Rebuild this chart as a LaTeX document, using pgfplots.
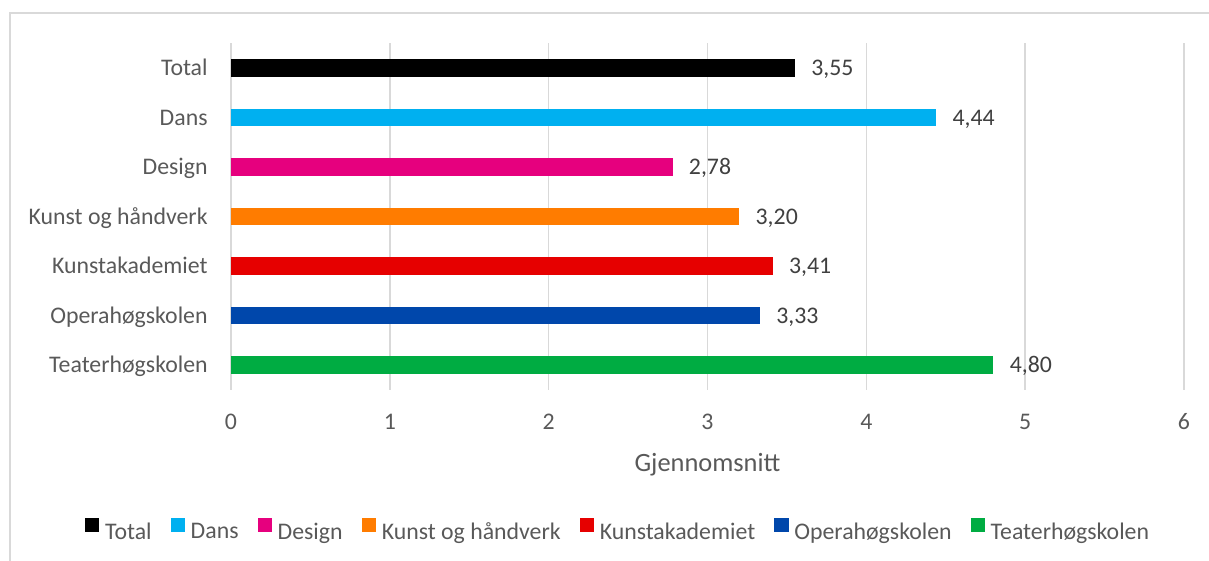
\documentclass[border=0pt]{standalone}
\usepackage{pgfplots}
\pgfplotsset{compat=1.18}
\usepackage{fontspec}
\setmainfont{Carlito}
\definecolor{gridgray}{HTML}{D9D9D9}
\definecolor{ticktext}{HTML}{595959}
\definecolor{labeltext}{HTML}{404040}
\definecolor{cTotal}{HTML}{000000}
\definecolor{cDans}{HTML}{00B0F0}
\definecolor{cDesign}{HTML}{E6007E}
\definecolor{cKunst}{HTML}{FF7C00}
\definecolor{cKa}{HTML}{E60000}
\definecolor{cOpera}{HTML}{0047AB}
\definecolor{cTeater}{HTML}{00AC42}
\begin{document}
\begin{tikzpicture}
\path[use as bounding box] (0,0) rectangle (604.5pt,280.5pt);
\draw[gridgray, line width=0.65pt] (5pt,0pt) -- (5pt,274pt) -- (604.5pt,274pt);
\begin{axis}[
  at={(115.5pt,85.5pt)}, anchor=south west,
  scale only axis, width=476.5pt, height=173.5pt,
  xmin=0, xmax=6, ymin=-0.5, ymax=6.5,
  xtick={0,1,2,3,4,5,6},
  ytick={0,1,2,3,4,5,6},
  yticklabels={Teaterhøgskolen,Operahøgskolen,Kunstakademiet,Kunst og håndverk,Design,Dans,Total},
  axis line style={draw=none},
  major tick length=0pt,
  xmajorgrids, grid style={gridgray, line width=0.7pt},
  /pgf/number format/assume math mode=true,
  tick label style={font=\fontsize{11.9}{14}\selectfont, text=ticktext, inner sep=0pt},
  yticklabel style={anchor=base east, xshift=-11.5pt, yshift=-3.85pt},
  xticklabel style={anchor=base, yshift=-19.65pt},
  xlabel={Gjennomsnitt},
  xlabel style={at={(axis description cs:0.5,0)}, anchor=base, inner sep=0pt, yshift=-41pt, font=\fontsize{13.2}{16}\selectfont, text=ticktext},
  point meta=explicit symbolic,
  nodes near coords,
  nodes near coords style={anchor=base west, inner sep=0pt, xshift=8pt, yshift=-3.85pt, font=\fontsize{11.9}{14}\selectfont, text=labeltext},
  legend columns=-1,
  legend image code/.code={\fill[#1] (0pt,0pt) rectangle (7.2pt,7.2pt);},
  legend style={at={(0.407,-0.409)}, anchor=center, draw=none, fill=none,
    font=\fontsize{11.9}{14}\selectfont, text=ticktext,
    /tikz/every odd column/.append style={column sep=1pt},
    /tikz/every even column/.append style={column sep=7.75pt},
    nodes={inner sep=1.8pt}},
]
\addplot[xbar, bar shift=0pt, bar width=8.75pt, fill=cTotal, draw=none] coordinates {(3.55,6) [3,55]};
\addplot[xbar, bar shift=0pt, bar width=8.75pt, fill=cDans, draw=none] coordinates {(4.44,5) [4,44]};
\addplot[xbar, bar shift=0pt, bar width=8.75pt, fill=cDesign, draw=none] coordinates {(2.78,4) [2,78]};
\addplot[xbar, bar shift=0pt, bar width=8.75pt, fill=cKunst, draw=none] coordinates {(3.20,3) [3,20]};
\addplot[xbar, bar shift=0pt, bar width=8.75pt, fill=cKa, draw=none] coordinates {(3.41,2) [3,41]};
\addplot[xbar, bar shift=0pt, bar width=8.75pt, fill=cOpera, draw=none] coordinates {(3.33,1) [3,33]};
\addplot[xbar, bar shift=0pt, bar width=8.75pt, fill=cTeater, draw=none] coordinates {(4.80,0) [4,80]};
\legend{Total,Dans,Design,Kunst og håndverk,Kunstakademiet,Operahøgskolen,Teaterhøgskolen}
\end{axis}
\end{tikzpicture}
\end{document}
